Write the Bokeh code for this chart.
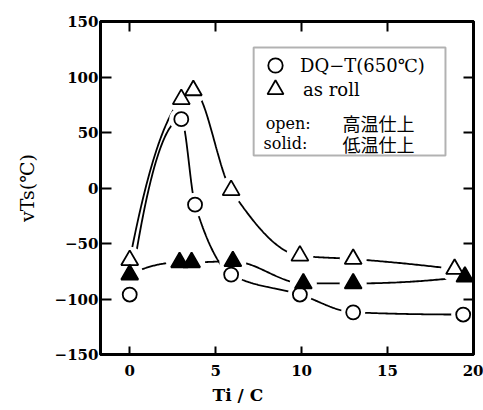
import numpy as np
from bokeh.plotting import figure
from bokeh.models import (Range1d, LinearAxis, Legend, LegendItem, BoxAnnotation,
                          Label, FixedTicker, Title)
from bokeh.embed import file_html
from bokeh.resources import INLINE

# ---- data ----
ti_dq = [0, 3.0, 3.8, 5.9, 9.9, 13.0, 19.4]
vts_dq = [-96, 62, -15, -78, -96, -112, -114]

ti_roll_hi = [0, 3.0, 3.7, 5.9, 9.9, 13.0, 18.9]
vts_roll_hi = [-65, 80, 88, -2, -61, -64, -73]

ti_roll_lo = [0, 2.9, 3.6, 6.0, 10.1, 13.0, 19.5]
vts_roll_lo = [-78, -67, -67, -66, -86, -86, -80]

x_ticks = [0, 5, 10, 15, 20]
y_ticks = [-150, -100, -50, 0, 50, 100, 150]
y_tick_labels = ["\u2212150", "\u2212100", "\u221250", "0", "50", "100", "150"]

legend_labels = ["DQ\u2212T(650\u2103)", "as roll"]
note_keys = ["open:", "solid:"]
note_vals = ["高温仕上", "低温仕上"]
x_title = "Ti / C"
y_title = "vTs(\u2103)"


def smooth(xs, ys, n=60):
    """Monotone cubic Hermite curve through the measured points."""
    x = np.asarray(xs, float)
    y = np.asarray(ys, float)
    h = np.diff(x)
    d = np.diff(y) / h
    m = np.zeros_like(y)
    for k in range(1, len(x) - 1):
        if d[k - 1] * d[k] <= 0:
            m[k] = 0.0
        else:
            w1 = 2 * h[k] + h[k - 1]
            w2 = h[k] + 2 * h[k - 1]
            m[k] = (w1 + w2) / (w1 / d[k - 1] + w2 / d[k])

    def end(dd, mn):
        v = 2 * dd - mn
        if v * dd <= 0:
            return 0.0
        if abs(v) > 3 * abs(dd):
            return 3 * dd
        return v

    m[0] = end(d[0], m[1])
    m[-1] = end(d[-1], m[-2])
    px, py = [], []
    for k in range(len(x) - 1):
        t = np.linspace(0, 1, n)
        h00 = 2 * t**3 - 3 * t**2 + 1
        h10 = t**3 - 2 * t**2 + t
        h01 = -2 * t**3 + 3 * t**2
        h11 = t**3 - t**2
        px.extend(x[k] + t * h[k])
        py.extend(h00 * y[k] + h10 * h[k] * m[k] + h01 * y[k + 1] + h11 * h[k] * m[k + 1])
    return px, py


p = figure(width=483, height=410, output_backend="svg", toolbar_location=None,
           x_range=Range1d(-1.7, 20), y_range=Range1d(-150, 150),
           min_border_left=100, min_border_right=10, min_border_top=21, min_border_bottom=56)
p.background_fill_color = "white"
p.border_fill_color = "white"
p.grid.visible = False
p.outline_line_color = "black"
p.outline_line_width = 3

FONT = "DejaVu Serif"

# axes
for ax in (p.xaxis[0], p.yaxis[0]):
    ax.axis_line_width = 3
    ax.major_tick_line_width = 2
    ax.minor_tick_line_color = None
    ax.major_tick_out = 0
    ax.major_label_text_font = FONT
    ax.major_label_text_font_style = "bold"
    ax.major_label_text_font_size = "15px"
    ax.major_label_text_color = "black"

p.xaxis[0].ticker = FixedTicker(ticks=x_ticks)
p.xaxis[0].major_tick_in = 8
p.xaxis[0].major_label_standoff = 10

p.yaxis[0].ticker = FixedTicker(ticks=y_ticks)
p.yaxis[0].major_label_overrides = {v: s for v, s in zip(y_ticks, y_tick_labels)}
p.yaxis[0].major_tick_in = 11
p.yaxis[0].major_label_standoff = 2
p.yaxis[0].axis_label = y_title
p.yaxis[0].axis_label_text_font = FONT
p.yaxis[0].axis_label_text_font_style = "normal"
p.yaxis[0].axis_label_text_font_size = "19px"
p.yaxis[0].axis_label_text_color = "black"
p.yaxis[0].axis_label_standoff = 14

top = LinearAxis(ticker=FixedTicker(ticks=x_ticks))
right = LinearAxis(ticker=FixedTicker(ticks=y_ticks))
for ax in (top, right):
    ax.axis_line_width = 3
    ax.major_tick_line_width = 2
    ax.major_tick_in = 10
    ax.major_tick_out = 0
    ax.minor_tick_line_color = None
    ax.major_label_text_font_size = "1px"
    ax.major_label_text_color = None
    ax.major_label_standoff = 0
p.add_layout(top, "above")
p.add_layout(right, "right")

# x title (placed left of centre, as in the reference)
p.add_layout(Title(text=x_title, align="left", offset=112, standoff=9,
                   text_font=FONT, text_font_style="bold", text_font_size="17px",
                   text_color="black"), "below")

# curves
LW = 1.8
for xs, ys in ((ti_dq, vts_dq), (ti_roll_hi, vts_roll_hi), (ti_roll_lo, vts_roll_lo)):
    cx, cy = smooth(xs, ys)
    p.line(cx, cy, line_color="black", line_width=LW)

# white halos (break the curves around the markers)
p.scatter(ti_dq, vts_dq, marker="circle", size=24, fill_color="white", line_color=None)
p.scatter(ti_roll_hi, vts_roll_hi, marker="circle", size=27, fill_color="white", line_color=None)
p.scatter(ti_roll_lo, vts_roll_lo, marker="circle", size=27, fill_color="white", line_color=None)

# markers
r_dq = p.scatter(ti_dq, vts_dq, marker="circle", size=14, fill_color="white",
                 line_color="black", line_width=LW)
r_hi = p.scatter(ti_roll_hi, vts_roll_hi, marker="triangle", size=17, fill_color="white",
                 line_color="black", line_width=LW)
r_lo = p.scatter(ti_roll_lo, vts_roll_lo, marker="triangle", size=17, fill_color="black",
                 line_color="black", line_width=LW)

# legend box
box = BoxAnnotation(left=7.21, right=18.37, top=126.6, bottom=29.3,
                    fill_alpha=0, line_color="black", line_width=2)
p.add_layout(box)

leg_common = dict(padding=0, margin=0, spacing=0, border_line_alpha=0,
                  background_fill_alpha=0, label_text_font=FONT,
                  label_text_font_size="18px", label_text_color="black")
leg1 = Legend(items=[LegendItem(label=legend_labels[0], renderers=[r_dq])],
              location=(157, 271), glyph_width=36, glyph_height=36, label_height=36,
              label_standoff=7, **leg_common)
leg2 = Legend(items=[LegendItem(label=legend_labels[1], renderers=[r_hi])],
              location=(155, 245), glyph_width=40, glyph_height=40, label_height=40,
              label_standoff=8, **leg_common)
p.add_layout(leg1)
p.add_layout(leg2)

for key, val, xk, yk in zip(note_keys, note_vals, [7.91, 7.79], [58.5, 40.0]):
    p.add_layout(Label(x=xk, y=yk, text=key, text_font=FONT, text_font_size="16px",
                       text_color="black", text_baseline="middle", text_align="left"))
    p.add_layout(Label(x=12.38, y=yk, text=val, text_font="Noto Sans CJK JP",
                       text_font_size="18px", text_color="black",
                       text_baseline="middle", text_align="left"))

open("out.html", "w").write(file_html(p, INLINE))
